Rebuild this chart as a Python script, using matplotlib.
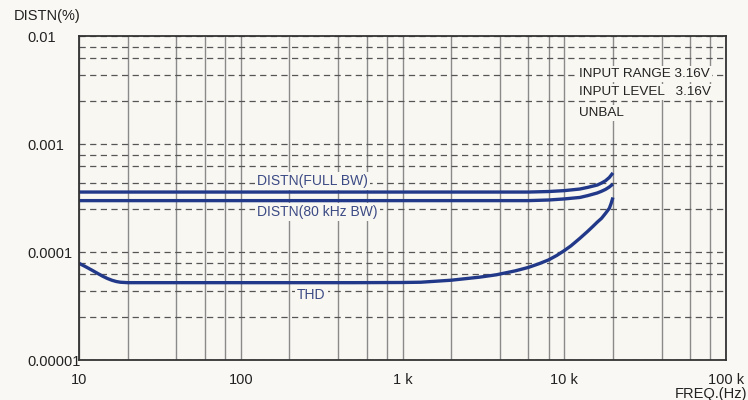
import matplotlib
matplotlib.use('Agg')
import matplotlib.pyplot as plt
from matplotlib.ticker import FixedLocator, NullFormatter

plt.rcParams['font.family'] = ['Liberation Sans', 'DejaVu Sans']

# Distortion curves (freq in Hz, distortion in %)
full_bw_freq = [10, 1000, 6000, 8000, 10000, 12500, 14000, 16000, 17000, 18000, 19000, 20000]
full_bw_val = [3.59e-4, 3.59e-4, 3.59e-4, 3.63e-4, 3.70e-4, 3.83e-4, 3.97e-4, 4.17e-4,
               4.35e-4, 4.57e-4, 4.9e-4, 5.4e-4]

bw80_freq = [10, 1000, 6000, 8000, 10000, 12500, 14000, 16000, 17000, 18000, 19000, 20000]
bw80_val = [2.99e-4, 2.99e-4, 2.99e-4, 3.03e-4, 3.10e-4, 3.20e-4, 3.33e-4, 3.52e-4,
            3.65e-4, 3.80e-4, 4.0e-4, 4.26e-4]

thd_freq = [10, 11, 12, 13, 14, 15, 16, 17, 18, 20, 500, 1000, 1300, 2000, 3000, 3800,
            5000, 6000, 7000, 8000, 9000, 10000, 11000, 12500, 14000, 15000, 16000,
            17000, 18000, 19000, 19500, 20000]
thd_val = [7.86e-5, 7.3e-5, 6.8e-5, 6.35e-5, 5.97e-5, 5.68e-5, 5.47e-5, 5.33e-5, 5.25e-5,
           5.2e-5, 5.2e-5, 5.22e-5, 5.25e-5, 5.48e-5, 5.85e-5, 6.15e-5, 6.7e-5, 7.2e-5,
           7.8e-5, 8.45e-5, 9.3e-5, 1.03e-4, 1.14e-4, 1.34e-4, 1.56e-4, 1.72e-4, 1.89e-4,
           2.05e-4, 2.28e-4, 2.54e-4, 2.82e-4, 3.2e-4]

x_ticks = [10, 100, 1000, 10000, 100000]
x_tick_labels = ['10', '100', '1 k', '10 k', '100 k']
y_ticks = [1e-5, 1e-4, 1e-3, 1e-2]
y_tick_labels = ['0.00001', '0.0001', '0.001', '0.01']
x_minor_mult = [2, 4, 6, 8]
y_minor_mult = [2.5, 4.4, 6.3, 7.9]

line_color = '#22398a'
label_color = '#3d4b85'
bg = '#f8f7f2'

fig = plt.figure(figsize=(7.48, 4.0), dpi=100, facecolor='#f9f8f4')
ax = fig.add_axes([79 / 748, 40 / 400, 647 / 748, 324 / 400])
ax.set_facecolor(bg)
ax.set_xscale('log')
ax.set_yscale('log')
ax.set_xlim(10, 100000)
ax.set_ylim(1e-5, 1e-2)

x_minor = [d * m for d in x_ticks[:-1] for m in x_minor_mult]
y_minor = [d * m for d in y_ticks[:-1] for m in y_minor_mult]
ax.xaxis.set_major_locator(FixedLocator(x_ticks))
ax.xaxis.set_minor_locator(FixedLocator(x_minor))
ax.yaxis.set_major_locator(FixedLocator(y_ticks))
ax.yaxis.set_minor_locator(FixedLocator(y_minor))
ax.xaxis.set_minor_formatter(NullFormatter())
ax.yaxis.set_minor_formatter(NullFormatter())
ax.set_xticklabels(x_tick_labels)
ax.set_yticklabels(y_tick_labels)

ax.grid(which='both', axis='x', color='#8a8a8a', linewidth=1.0, linestyle='-')
ax.grid(which='both', axis='y', color='#555555', linewidth=0.9, linestyle=(0, (5, 3.5)))
ax.set_axisbelow(True)

ax.tick_params(axis='both', which='both', length=0, labelsize=10.5, colors='#222222')
ax.tick_params(axis='x', pad=9)
ax.tick_params(axis='y', pad=37)
for lab in ax.get_yticklabels():
    lab.set_horizontalalignment('left')

for sp in ax.spines.values():
    sp.set_color('#333333')
    sp.set_linewidth(1.3)

for fx, fy in [(full_bw_freq, full_bw_val), (bw80_freq, bw80_val), (thd_freq, thd_val)]:
    ax.plot(fx, fy, color=line_color, linewidth=2.4, solid_capstyle='butt', solid_joinstyle='round')

box = dict(facecolor=bg, edgecolor='none', pad=1.5)
ax.text(126, 4.57e-4, 'DISTN(FULL BW)', color=label_color, fontsize=10, ha='left', va='center', bbox=box)
ax.text(126, 2.36e-4, 'DISTN(80 kHz BW)', color=label_color, fontsize=10, ha='left', va='center', bbox=box)
ax.text(223, 4.0e-5, 'THD', color=label_color, fontsize=10, ha='left', va='center', bbox=box)

ax.text(12400, 4.45e-3, 'INPUT RANGE 3.16V', color='#222222', fontsize=9.7, ha='left', va='center', bbox=box)
ax.text(12400, 3.0e-3, 'INPUT LEVEL   3.16V', color='#222222', fontsize=9.7, ha='left', va='center', bbox=box)
ax.text(12400, 1.92e-3, 'UNBAL', color='#222222', fontsize=9.7, ha='left', va='center', bbox=box)

fig.text(14 / 748, 1 - 16 / 400, 'DISTN(%)', fontsize=10.5, color='#222222', ha='left', va='center')
fig.text(747 / 748, 1 - 394 / 400, 'FREQ.(Hz)', fontsize=10.5, color='#222222', ha='right', va='center')

fig.savefig('out.png', dpi=100, facecolor=fig.get_facecolor())
